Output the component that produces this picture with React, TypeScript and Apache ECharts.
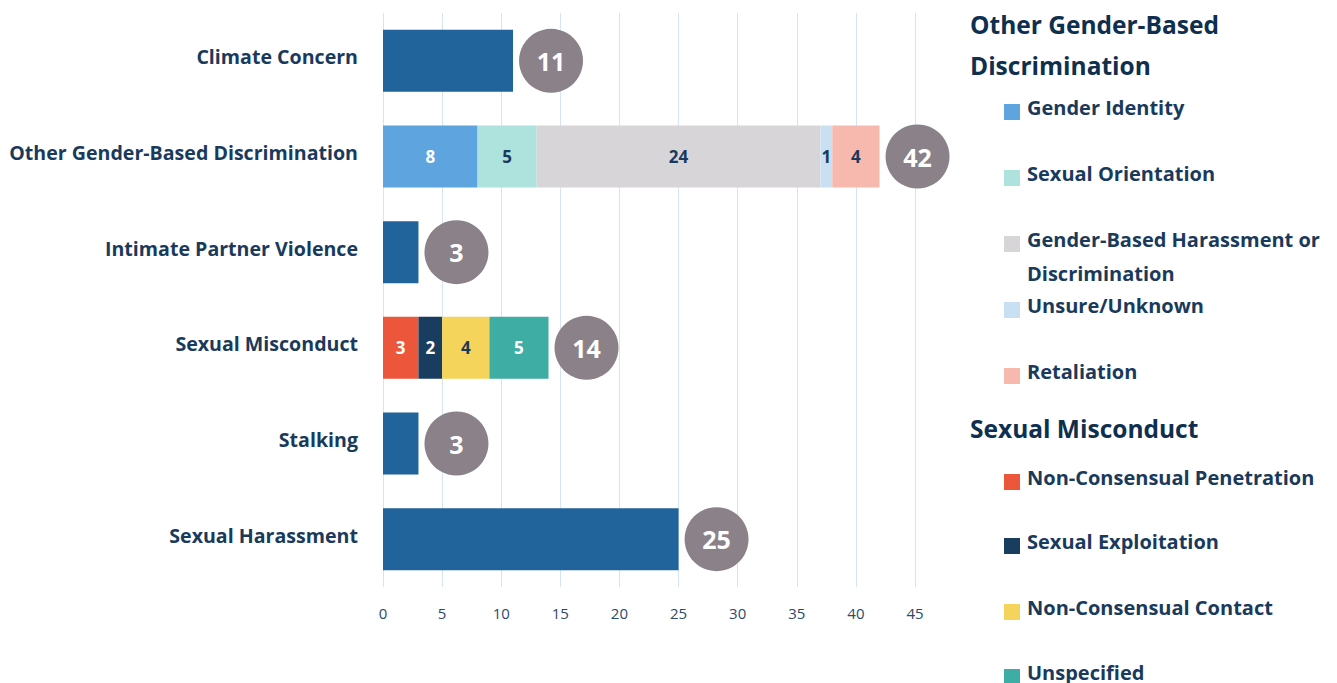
import React, { useEffect, useRef } from "react";
import * as echarts from "echarts";

const categories = [
  "Climate Concern",
  "Other Gender-Based Discrimination",
  "Intimate Partner Violence",
  "Sexual Misconduct",
  "Stalking",
  "Sexual Harassment",
];
const singleValues = [11, null, 3, null, 3, 25];
const genderIdentity = [null, 8, null, null, null, null];
const sexualOrientation = [null, 5, null, null, null, null];
const genderBasedHarassment = [null, 24, null, null, null, null];
const unsureUnknown = [null, 1, null, null, null, null];
const retaliation = [null, 4, null, null, null, null];
const nonConsensualPenetration = [null, null, null, 3, null, null];
const sexualExploitation = [null, null, null, 2, null, null];
const nonConsensualContact = [null, null, null, 4, null, null];
const unspecified = [null, null, null, 5, null, null];
const totals = [11, 42, 3, 14, 3, 25];
const xTicks = { min: 0, max: 45, interval: 5 };

const DARK = "#1a3a5c";
const FONT = "Open Sans";

const subSeries = [
  { name: "Gender Identity", data: genderIdentity, color: "#5ea4de", label: "#ffffff", group: 0 },
  { name: "Sexual Orientation", data: sexualOrientation, color: "#aee2dc", label: DARK, group: 0 },
  { name: "Gender-Based Harassment or Discrimination", data: genderBasedHarassment, color: "#d7d5d8", label: DARK, group: 0 },
  { name: "Unsure/Unknown", data: unsureUnknown, color: "#c9e0f2", label: DARK, group: 0 },
  { name: "Retaliation", data: retaliation, color: "#f7b9ae", label: DARK, group: 0 },
  { name: "Non-Consensual Penetration", data: nonConsensualPenetration, color: "#ec573b", label: "#ffffff", group: 1 },
  { name: "Sexual Exploitation", data: sexualExploitation, color: "#183d5e", label: "#ffffff", group: 1 },
  { name: "Non-Consensual Contact", data: nonConsensualContact, color: "#f5d45c", label: DARK, group: 1 },
  { name: "Unspecified", data: unspecified, color: "#3eada3", label: "#ffffff", group: 1 },
];

export default function App() {
  const ref = useRef<HTMLDivElement>(null);
  useEffect(() => {
    if (!ref.current) return;
    const chart = echarts.init(ref.current, null, { renderer: "svg" });

    const series: any[] = [
      {
        name: "Total",
        type: "bar",
        stack: "s",
        data: singleValues,
        barWidth: 62,
        itemStyle: { color: "#21639b" },
      },
      ...subSeries.map((s) => ({
        name: s.name,
        type: "bar",
        stack: "s",
        data: s.data,
        barWidth: 62,
        itemStyle: { color: s.color },
        label: {
          show: true,
          position: "inside",
          color: s.label,
          fontFamily: FONT,
          fontWeight: "bold",
          fontSize: 17,
        },
      })),
      {
        name: "Totals",
        type: "scatter",
        data: totals.map((v, i) => [v, i]),
        symbol: "circle",
        symbolSize: 64,
        symbolOffset: [38, 0],
        itemStyle: { color: "#8b8189", opacity: 1 },
        z: 10,
        silent: true,
        label: {
          show: true,
          position: "inside",
          formatter: (p: any) => String(p.value[0]),
          color: "#ffffff",
          fontFamily: FONT,
          fontWeight: "bold",
          fontSize: 25,
        },
      },
    ];

    const groupCenters = [
      [112, 178, 244, 310, 376],
      [482, 546, 612, 677],
    ];
    const groupCounters = [0, 0];
    const textStyleRich = {
      t: { fontFamily: FONT, fontWeight: "bold", fontSize: 20, lineHeight: 24, color: DARK, padding: [0, 0, 0, 2] },
      w: { fontFamily: FONT, fontWeight: "bold", fontSize: 20, lineHeight: 34, color: DARK, padding: [0, 0, 0, 2] },
      s: { fontSize: 2, lineHeight: 10 },
      g: { fontSize: 2, lineHeight: 24 },
    };
    const legends = subSeries.map((s) => {
      const idx = groupCounters[s.group]++;
      const center = groupCenters[s.group][idx];
      const wrapped = s.name.length > 30;
      const h = wrapped ? 24 + 34 + 34 : 24 + 10;
      const adjust = wrapped ? 11 : 2;
      return {
        data: [s.name],
        left: 1004,
        top: center - h / 2 + adjust,
        orient: "vertical",
        padding: 0,
        itemWidth: 16,
        itemHeight: 16,
        icon: "rect",
        selectedMode: false,
        formatter: wrapped
          ? () => "{g| }\n{w|Gender-Based Harassment or}\n{w|Discrimination}"
          : (name: string) => `{t|${name}}\n{s| }`,
        textStyle: {
          color: DARK,
          fontFamily: FONT,
          fontWeight: "bold",
          fontSize: 20,
          rich: textStyleRich,
        },
      };
    });

    chart.setOption({
      animation: false,
      textStyle: { fontFamily: FONT },
      grid: { left: 383, right: 422, top: 13, bottom: 96, containLabel: false },
      xAxis: {
        type: "value",
        min: xTicks.min,
        max: xTicks.max,
        interval: xTicks.interval,
        axisLine: { show: false },
        axisTick: { show: false },
        splitLine: { show: true, lineStyle: { color: "#d5e5f3", width: 1 } },
        axisLabel: { color: "#2b4a6b", fontSize: 15, margin: 18, fontFamily: FONT },
      },
      yAxis: {
        type: "category",
        data: categories,
        inverse: true,
        axisLine: { show: false },
        axisTick: { show: false },
        axisLabel: {
          color: DARK,
          fontSize: 19.6,
          fontWeight: "bold",
          fontFamily: FONT,
          margin: 25,
          verticalAlign: "bottom",
          lineHeight: 8,
        },
      },
      legend: legends,
      graphic: [
        {
          type: "text",
          left: 970,
          top: 4,
          style: {
            text: "Other Gender-Based\nDiscrimination",
            fontFamily: FONT,
            fontWeight: "bold",
            fontSize: 24.5,
            lineHeight: 41,
            fill: "#0f2f4f",
          },
        },
        {
          type: "text",
          left: 970,
          top: 408,
          style: {
            text: "Sexual Misconduct",
            fontFamily: FONT,
            fontWeight: "bold",
            fontSize: 24.5,
            lineHeight: 41,
            fill: "#0f2f4f",
          },
        },
      ],
      series,
    });
    return () => chart.dispose();
  }, []);
  return (
    <div
      ref={ref}
      style={{ position: "absolute", left: 0, top: 0, width: 1337, height: 683 }}
    />
  );
}
